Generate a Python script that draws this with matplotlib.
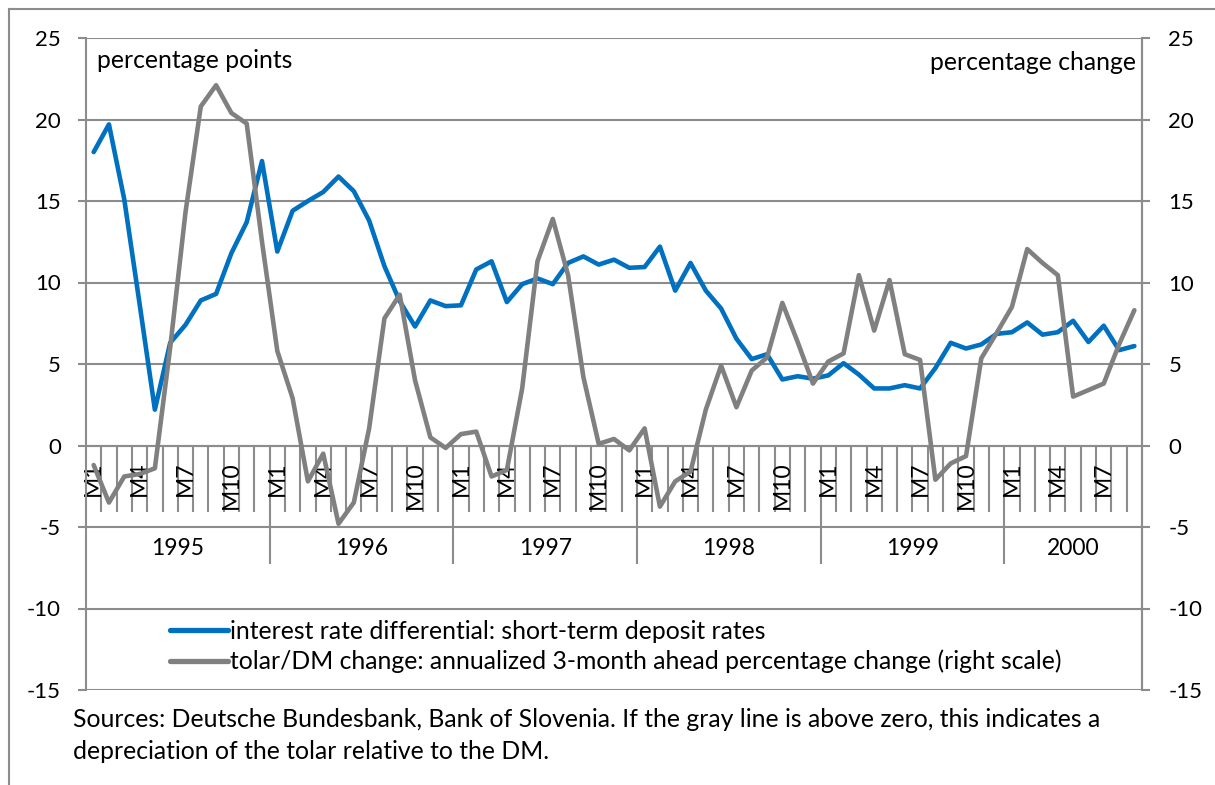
import matplotlib
matplotlib.use("Agg")
import matplotlib.pyplot as plt
from matplotlib.lines import Line2D
import numpy as np

years = ["1995", "1996", "1997", "1998", "1999", "2000"]
months_per_year = [12, 12, 12, 12, 12, 9]
month_labels = ["M1", "M4", "M7", "M10"]
month_label_idx = [0, 3, 6, 9]

interest_diff = [18.0, 19.7, 15.1, 8.7, 2.2, 6.3, 7.4, 8.9, 9.3, 11.8, 13.7, 17.45,
                 11.9, 14.4, 15.0, 15.55, 16.5, 15.6, 13.8, 11.0, 8.85, 7.3, 8.9, 8.55,
                 8.6, 10.8, 11.3, 8.8, 9.9, 10.25, 9.9, 11.2, 11.6, 11.1, 11.4, 10.9,
                 10.95, 12.2, 9.5, 11.2, 9.5, 8.4, 6.55, 5.3, 5.6, 4.05, 4.25, 4.1,
                 4.3, 5.05, 4.35, 3.5, 3.5, 3.7, 3.5, 4.75, 6.3, 5.95, 6.2, 6.85,
                 6.95, 7.55, 6.8, 6.95, 7.65, 6.35, 7.35, 5.85, 6.1]

tolar_change = [-1.2, -3.5, -1.9, -1.75, -1.4, 6.0, 14.3, 20.8, 22.1, 20.4, 19.75, 12.5,
                5.8, 2.9, -2.2, -0.5, -4.8, -3.5, 1.05, 7.8, 9.25, 4.0, 0.5, -0.15,
                0.7, 0.85, -1.9, -1.5, 3.5, 11.3, 13.9, 10.45, 4.2, 0.1, 0.4, -0.3,
                1.05, -3.75, -2.2, -1.6, 2.2, 4.9, 2.35, 4.6, 5.4, 8.75, 6.35, 3.8,
                5.15, 5.65, 10.45, 7.05, 10.15, 5.6, 5.25, -2.1, -1.1, -0.65, 5.35, 6.9,
                8.5, 12.05, 11.2, 10.45, 3.0, 3.4, 3.8, 6.2, 8.3]

legend_labels = ["interest rate differential: short-term deposit rates",
                 "tolar/DM change: annualized 3-month ahead percentage change (right scale)"]
left_title = "percentage points"
right_title = "percentage change"
source_text = ("Sources: Deutsche Bundesbank, Bank of Slovenia. If the gray line is above zero, this indicates a\n"
               "depreciation of the tolar relative to the DM.")

yticks = [-15, -10, -5, 0, 5, 10, 15, 20, 25]

FONT = "Lato"
FS_TICK = 16
FS_CAT = 16.5
FS_TXT = 17.8
GRID = "#8c8c8c"
BLUE = "#0070C0"
GRAY = "#808080"

plt.rcParams["font.family"] = [FONT, "DejaVu Sans"]
plt.rcParams["axes.unicode_minus"] = False

W, H = 1215, 785
fig = plt.figure(figsize=(W / 100, H / 100), dpi=100)

def fx(px):
    return px / W

def fy(py):
    return 1 - py / H

ax = fig.add_axes([fx(86), fy(690), fx(1142) - fx(86), fy(38) - fy(690)])
n = len(interest_diff)
x = np.arange(n) + 0.5

ax.set_xlim(0, n)
ax.set_ylim(-15, 25)
ax.set_yticks(yticks)
ax.set_xticks([])
for s in ["top", "bottom"]:
    ax.spines[s].set_visible(False)
for s in ["left", "right"]:
    ax.spines[s].set_color(GRID)
    ax.spines[s].set_linewidth(1.5)
ax.yaxis.grid(True, color=GRID, linewidth=1.5)
ax.set_axisbelow(True)
ax.tick_params(axis="y", direction="out", length=6, width=1.5, color=GRID,
               labelsize=FS_TICK, pad=12)

ax2 = ax.twinx()
ax2.set_ylim(-15, 25)
ax2.set_yticks(yticks)
for s in ["top", "bottom", "left"]:
    ax2.spines[s].set_visible(False)
ax2.spines["right"].set_color(GRID)
ax2.spines["right"].set_linewidth(1.5)
ax2.tick_params(axis="y", direction="out", length=6, width=1.5, color=GRID,
                labelsize=FS_TICK, pad=13)

# category axis
ax.axhline(0, color=GRID, linewidth=1.5, zorder=1)
boundaries = np.cumsum([0] + months_per_year)
for k in range(1, n):
    if k in boundaries:
        ax.plot([k, k], [0, -7.3], color=GRID, linewidth=1.5, zorder=1, solid_capstyle="butt")
    else:
        ax.plot([k, k], [0, -4.1], color=GRID, linewidth=1.5, zorder=1, solid_capstyle="butt")
for yi, yr in enumerate(years):
    start = boundaries[yi]
    for lab, idx in zip(month_labels, month_label_idx):
        if idx < months_per_year[yi]:
            ax.text(start + idx + 0.5, -1.0, lab, rotation=90, ha="center", va="top",
                    fontsize=FS_CAT, zorder=2)
    ax.text(start + months_per_year[yi] / 2, -6.3, yr, ha="center", va="center",
            fontsize=FS_CAT, zorder=2)

l1, = ax.plot(x, interest_diff, color=BLUE, linewidth=3.3, zorder=4,
              solid_joinstyle="round", solid_capstyle="round")
l2, = ax2.plot(x, tolar_change, color=GRAY, linewidth=3.3, zorder=4,
               solid_joinstyle="round", solid_capstyle="round")

leg = fig.legend([l1, l2], legend_labels, loc="upper left",
                 bbox_to_anchor=(fx(170), fy(620)), frameon=False, fontsize=FS_TXT,
                 handlelength=2.35, handletextpad=0.08, borderpad=0, borderaxespad=0,
                 labelspacing=0.27)
for h in leg.legend_handles:
    h.set_linewidth(3.8)

fig.text(fx(97), fy(60), left_title, ha="left", va="center", fontsize=FS_TXT)
fig.text(fx(1136), fy(62), right_title, ha="right", va="center", fontsize=FS_TXT)
fig.text(fx(73), fy(708), source_text, ha="left", va="top", fontsize=FS_TXT,
         linespacing=1.48)

# outer frame
fig.add_artist(Line2D([fx(9), fx(9)], [fy(9), 0], color=GRID, linewidth=1.5))
fig.add_artist(Line2D([fx(9), 1], [fy(9), fy(9)], color=GRID, linewidth=1.5))

fig.savefig("out.png", dpi=100)
